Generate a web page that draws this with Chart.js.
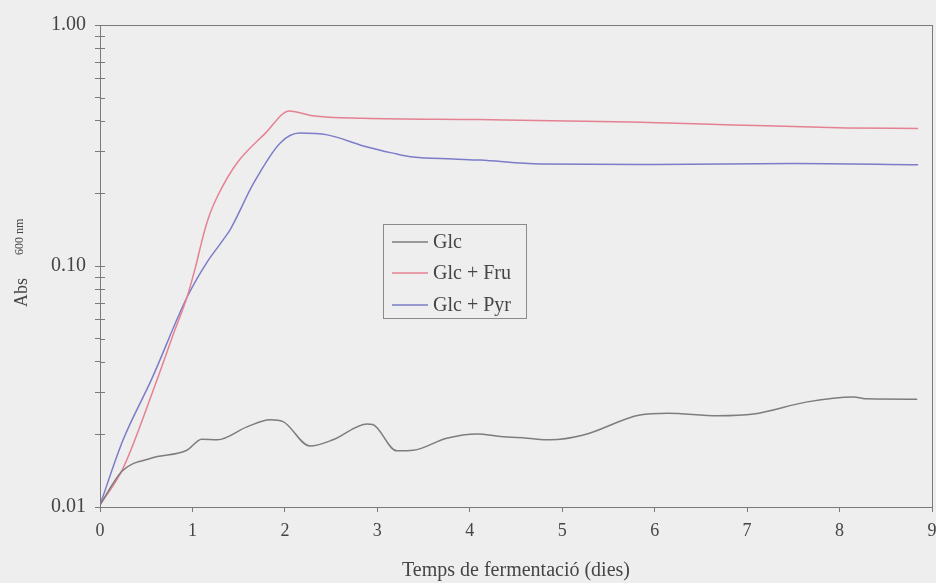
<!DOCTYPE html>
<html>
<head>
<meta charset="utf-8">
<title>Creixement</title>
<script src="https://cdn.jsdelivr.net/npm/chart.js@4/dist/chart.umd.min.js"></script>
<style>
  html, body { margin: 0; padding: 0; background: #eeeeee; }
  #growthChart { display: block; }
</style>
</head>
<body>
<canvas id="growthChart" width="936" height="583"></canvas>
<script>
// Glc
const glcDays = [0, 0.24, 0.57, 0.94, 1.1, 1.27, 1.59, 1.84, 1.98, 2.27, 2.52, 2.89, 2.95, 3.21, 3.39, 3.75, 4.08, 4.33, 4.62, 4.87, 5.23, 5.84, 6.14, 6.68, 7.07, 7.65, 8.15, 8.3, 8.84];
const glcAbs = [0.0102, 0.0141, 0.016, 0.0172, 0.0191, 0.019, 0.0215, 0.023, 0.0226, 0.0179, 0.019, 0.0221, 0.022, 0.0171, 0.0172, 0.0193, 0.0201, 0.0196, 0.0193, 0.019, 0.0199, 0.0241, 0.0245, 0.0239, 0.0243, 0.0273, 0.0286, 0.0281, 0.028];

// Glc + Fru
const fruDays = [0, 0.25, 0.62, 0.8, 0.94, 1.03, 1.12, 1.19, 1.28, 1.48, 1.79, 2.05, 2.3, 2.85, 4.1, 5.74, 6.85, 8.08, 8.85];
const fruAbs = [0.0102, 0.0145, 0.034, 0.053, 0.074, 0.098, 0.135, 0.165, 0.198, 0.267, 0.356, 0.44, 0.42, 0.41, 0.405, 0.396, 0.385, 0.374, 0.372];

// Glc + Pyr
const pyrDays = [0, 0.25, 0.56, 0.94, 1.16, 1.33, 1.41, 1.66, 1.95, 2.16, 2.46, 2.85, 3.17, 3.39, 3.82, 4.11, 4.76, 6.0, 7.5, 8.85];
const pyrAbs = [0.0102, 0.019, 0.034, 0.074, 0.104, 0.128, 0.142, 0.22, 0.324, 0.356, 0.35, 0.315, 0.294, 0.283, 0.278, 0.275, 0.265, 0.264, 0.266, 0.263];

const seriesNames = ['Glc', 'Glc + Fru', 'Glc + Pyr'];
const seriesColors = ['#7d7d7d', '#e58193', '#7c7cc9'];

// log axis ticks; only the decades get a label
const yTicks = [0.01, 0.02, 0.03, 0.04, 0.05, 0.06, 0.07, 0.08, 0.09,
                0.1, 0.2, 0.3, 0.4, 0.5, 0.6, 0.7, 0.8, 0.9, 1];
const yLabelled = [0.01, 0.1, 1];

const toPoints = (xs, ys) => xs.map((x, i) => ({ x: x, y: ys[i] }));

const serif = 'Liberation Serif, Times New Roman, serif';
const axisColor = '#7a7a7a';
const textColor = '#454545';

// frame, inner ticks, y title and the boxed legend
const decor = {
  id: 'decor',
  afterDraw(chart) {
    const { ctx, chartArea: a, scales } = chart;
    ctx.save();
    ctx.strokeStyle = axisColor;
    ctx.lineWidth = 1;
    ctx.strokeRect(a.left + 0.5, a.top + 0.5, a.right - a.left, a.bottom - a.top);

    ctx.beginPath();
    scales.y.ticks.forEach(t => {
      const py = Math.round(scales.y.getPixelForValue(t.value)) + 0.5;
      ctx.moveTo(a.left, py);
      ctx.lineTo(a.left + 5, py);
    });
    ctx.stroke();

    // Abs 600 nm
    ctx.fillStyle = textColor;
    ctx.translate(27, 265);
    ctx.rotate(-Math.PI / 2);
    ctx.textBaseline = 'alphabetic';
    ctx.textAlign = 'left';
    ctx.font = '18px ' + serif;
    ctx.fillText('Abs', -42, 0);
    ctx.font = '12px ' + serif;
    ctx.fillText('600 nm', 10, -4);
    ctx.restore();

    // legend box
    ctx.save();
    const bx = 383, by = 224, bw = 143, bh = 94;
    ctx.fillStyle = '#eeeeee';
    ctx.fillRect(bx, by, bw, bh);
    ctx.strokeStyle = '#8a8a8a';
    ctx.strokeRect(bx + 0.5, by + 0.5, bw, bh);
    const rows = [242, 273, 305];
    ctx.font = '20px ' + serif;
    ctx.textBaseline = 'middle';
    chart.data.datasets.forEach((ds, i) => {
      ctx.strokeStyle = ds.borderColor;
      ctx.lineWidth = 1.5;
      ctx.beginPath();
      ctx.moveTo(392, rows[i]);
      ctx.lineTo(428, rows[i]);
      ctx.stroke();
      ctx.fillStyle = textColor;
      ctx.fillText(ds.label, 433, rows[i] + 1);
    });
    ctx.restore();
  }
};

new Chart(document.getElementById('growthChart'), {
  type: 'line',
  data: {
    datasets: [
      { label: seriesNames[0], data: toPoints(glcDays, glcAbs), borderColor: seriesColors[0] },
      { label: seriesNames[1], data: toPoints(fruDays, fruAbs), borderColor: seriesColors[1] },
      { label: seriesNames[2], data: toPoints(pyrDays, pyrAbs), borderColor: seriesColors[2] }
    ]
  },
  options: {
    responsive: false,
    animation: false,
    devicePixelRatio: 1,
    layout: { padding: { top: 25, right: 4, left: 0, bottom: 0 } },
    elements: {
      point: { radius: 0 },
      line: { borderWidth: 1.5, cubicInterpolationMode: 'monotone', fill: false }
    },
    plugins: {
      legend: { display: false },
      tooltip: { enabled: false }
    },
    scales: {
      x: {
        type: 'linear',
        min: 0,
        max: 9,
        afterFit(scale) {
          scale.height = 76;
          scale.paddingLeft = 0;
          scale.paddingRight = 0;
        },
        grid: { drawOnChartArea: false, color: axisColor, tickLength: 5 },
        border: { color: axisColor },
        ticks: { stepSize: 1, padding: 8, color: textColor, font: { family: serif, size: 18 } },
        title: {
          display: true,
          text: 'Temps de fermentació (dies)',
          color: textColor,
          font: { family: serif, size: 20 },
          padding: { top: 0, bottom: 0 }
        }
      },
      y: {
        type: 'logarithmic',
        min: 0.01,
        max: 1,
        afterFit(scale) {
          scale.width = 100;
          scale.paddingTop = 0;
          scale.paddingBottom = 0;
        },
        afterBuildTicks(scale) { scale.ticks = yTicks.map(v => ({ value: v })); },
        grid: { drawOnChartArea: false, color: axisColor, tickLength: 5 },
        border: { color: axisColor },
        ticks: {
          autoSkip: false,
          padding: 9,
          color: textColor,
          font: { family: serif, size: 20 },
          callback: v => yLabelled.includes(v) ? v.toFixed(2) : ''
        }
      }
    }
  },
  plugins: [decor]
});
</script>
</body>
</html>
